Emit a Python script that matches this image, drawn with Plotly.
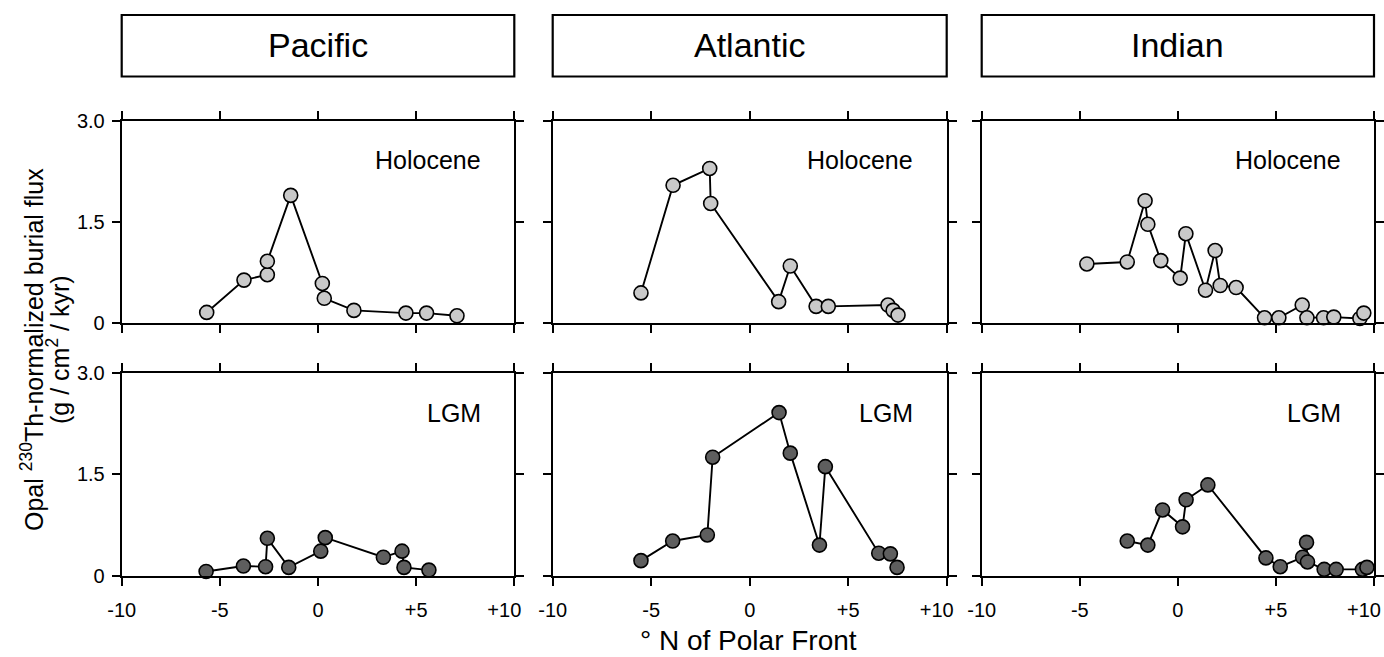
import plotly.graph_objects as go

W, H = 1384, 657

oceans = ["Pacific", "Atlantic", "Indian"]
periods = ["Holocene", "LGM"]

# Pacific
pac_hol_x = [-5.67, -3.77, -2.58, -2.58, -1.39, 0.22, 0.32, 1.83, 4.48, 5.53, 7.08]
pac_hol_y = [0.15, 0.63, 0.71, 0.91, 1.89, 0.58, 0.36, 0.18, 0.14, 0.14, 0.10]
pac_lgm_x = [-5.70, -3.80, -2.67, -2.58, -1.49, 0.14, 0.37, 3.33, 4.28, 4.38, 5.65]
pac_lgm_y = [0.06, 0.14, 0.13, 0.55, 0.12, 0.36, 0.56, 0.27, 0.36, 0.12, 0.08]
# Atlantic
atl_hol_x = [-5.52, -3.89, -2.03, -1.98, 1.47, 2.06, 3.37, 3.99, 7.02, 7.28, 7.53]
atl_hol_y = [0.44, 2.04, 2.29, 1.77, 0.31, 0.84, 0.24, 0.24, 0.26, 0.18, 0.11]
atl_lgm_x = [-5.52, -3.91, -2.15, -1.88, 1.49, 2.06, 3.54, 3.84, 6.55, 7.14, 7.48]
atl_lgm_y = [0.22, 0.51, 0.60, 1.75, 2.41, 1.81, 0.45, 1.61, 0.33, 0.32, 0.12]
# Indian
ind_hol_x = [-4.64, -2.58, -1.67, -1.53, -0.87, 0.12, 0.41, 1.41, 1.90, 2.16, 2.97,
             4.42, 5.15, 6.34, 6.58, 7.43, 7.95, 9.28, 9.48]
ind_hol_y = [0.87, 0.90, 1.81, 1.46, 0.92, 0.66, 1.32, 0.48, 1.07, 0.55, 0.52,
             0.07, 0.07, 0.26, 0.07, 0.07, 0.08, 0.06, 0.14]
ind_lgm_x = [-2.58, -1.53, -0.78, 0.24, 0.42, 1.53, 4.49, 5.22, 6.36, 6.56, 6.61,
             7.46, 8.07, 9.41, 9.64]
ind_lgm_y = [0.51, 0.45, 0.97, 0.72, 1.12, 1.34, 0.26, 0.13, 0.27, 0.49, 0.20,
             0.09, 0.09, 0.09, 0.12]

series = {
    ("Pacific", "Holocene"): (pac_hol_x, pac_hol_y),
    ("Pacific", "LGM"): (pac_lgm_x, pac_lgm_y),
    ("Atlantic", "Holocene"): (atl_hol_x, atl_hol_y),
    ("Atlantic", "LGM"): (atl_lgm_x, atl_lgm_y),
    ("Indian", "Holocene"): (ind_hol_x, ind_hol_y),
    ("Indian", "LGM"): (ind_lgm_x, ind_lgm_y),
}

x_ticks = [-10, -5, 0, 5, 10]
x_ticklabels = ["-10", "-5", "0", "+5", "+10"]
y_ticks = [0, 1.5, 3.0]
y_ticklabels = ["0", "1.5", "3.0"]

fill = {"Holocene": "#c9c9c9", "LGM": "#5e5e5e"}

FONT = "Liberation Sans, Arial, sans-serif"
TICKFONT = dict(size=20, family=FONT, color="black")

# panel pixel geometry
col_px = [(121.7, 514.3), (552.7, 946.7), (981.7, 1374.0)]
row_px = [(120.7, 322.5), (372.7, 575.5)]

fig = go.Figure()
layout = dict(
    width=W, height=H,
    margin=dict(l=0, r=0, t=0, b=0, autoexpand=False),
    paper_bgcolor="white", plot_bgcolor="white",
    showlegend=False,
    font=dict(family=FONT, color="black"),
)

shapes = []
annotations = []
idx = 0
for r, per in enumerate(periods):
    for c, oc in enumerate(oceans):
        idx += 1
        xa = "x" if idx == 1 else f"x{idx}"
        ya = "y" if idx == 1 else f"y{idx}"
        xs, ys = series[(oc, per)]
        fig.add_trace(go.Scatter(
            x=xs, y=ys, mode="lines+markers", xaxis=xa, yaxis=ya,
            line=dict(color="black", width=1.9),
            marker=dict(size=14, color=fill[per], line=dict(color="black", width=1.6)),
            cliponaxis=False, hoverinfo="skip",
        ))
        x0, x1 = col_px[c]
        ytop, ybot = row_px[r]
        key_x = "xaxis" if idx == 1 else f"xaxis{idx}"
        key_y = "yaxis" if idx == 1 else f"yaxis{idx}"
        layout[key_x] = dict(
            domain=[x0 / W, x1 / W], range=[-10, 10], anchor=ya,
            showline=True, linecolor="black", linewidth=2, mirror="ticks",
            ticks="outside", ticklen=8, tickwidth=2, tickcolor="black",
            tickvals=x_ticks,
            ticktext=x_ticklabels[:-1] + [""],
            showticklabels=(r == 1), tickfont=TICKFONT,
            ticklabelstandoff=7, automargin=False, ticklabeloverflow="allow",
            showgrid=False, zeroline=False, fixedrange=True,
        )
        layout[key_y] = dict(
            domain=[1 - ybot / H, 1 - ytop / H], range=[0, 3], anchor=xa,
            showline=True, linecolor="black", linewidth=2, mirror="ticks",
            ticks="outside", ticklen=8, tickwidth=2, tickcolor="black",
            tickvals=y_ticks, ticktext=y_ticklabels,
            showticklabels=(c == 0), tickfont=TICKFONT,
            ticklabelstandoff=3, automargin=False, ticklabeloverflow="allow",
            showgrid=False, zeroline=False, fixedrange=True,
        )
        annotations.append(dict(
            x=8.4, y=2.41, xref=xa, yref=ya, text=per, showarrow=False,
            xanchor="right", yanchor="middle", font=dict(size=25, family=FONT),
        ))
        if r == 0:
            shapes.append(dict(
                type="rect", xref=f"{xa} domain", yref="paper",
                x0=0, x1=1, y0=1 - 76.5 / H, y1=1 - 15 / H,
                line=dict(color="black", width=2.2), fillcolor="white",
            ))
            annotations.append(dict(
                x=0.5, y=1 - 45 / H, xref=f"{xa} domain", yref="paper",
                text=oc, showarrow=False, xanchor="center", yanchor="middle",
                font=dict(size=34, family=FONT),
            ))

# overlay axes carrying the "+10" label, nudged left as in the original
for c in range(3):
    base = 4 + c
    oidx = 7 + c
    ov_x = f"x{oidx}"
    fig.add_trace(go.Scatter(x=[], y=[], xaxis=ov_x, yaxis=f"y{base}",
                             hoverinfo="skip", showlegend=False))
    x0, x1 = col_px[c]
    layout[f"xaxis{oidx}"] = dict(
        domain=[x0 / W, x1 / W], range=[-10, 10], anchor=f"y{base}",
        overlaying=f"x{base}", side="bottom",
        showline=False, ticks="", tickvals=[x_ticks[-1]], ticktext=[x_ticklabels[-1]],
        showticklabels=True, tickfont=TICKFONT, ticklabelstandoff=20,
        ticklabelshift=-10, automargin=False, ticklabeloverflow="allow",
        showgrid=False, zeroline=False, fixedrange=True,
    )

# axis titles
annotations.append(dict(
    x=748 / W, y=1 - 640 / H, xref="paper", yref="paper",
    text="° N of Polar Front", showarrow=False, xanchor="center", yanchor="middle",
    font=dict(size=28, family=FONT),
))
annotations.append(dict(
    x=32 / W, y=1 - 350 / H, xref="paper", yref="paper",
    text="Opal <sup>230</sup>Th-normalized burial flux", showarrow=False,
    textangle=-90, xanchor="center", yanchor="middle",
    font=dict(size=25, family=FONT),
))
annotations.append(dict(
    x=58 / W, y=1 - 350 / H, xref="paper", yref="paper",
    text="(g / cm<sup>2</sup> / kyr)", showarrow=False,
    textangle=-90, xanchor="center", yanchor="middle",
    font=dict(size=25, family=FONT),
))

layout["shapes"] = shapes
layout["annotations"] = annotations
fig.update_layout(**layout)
fig.write_html("out.html")
